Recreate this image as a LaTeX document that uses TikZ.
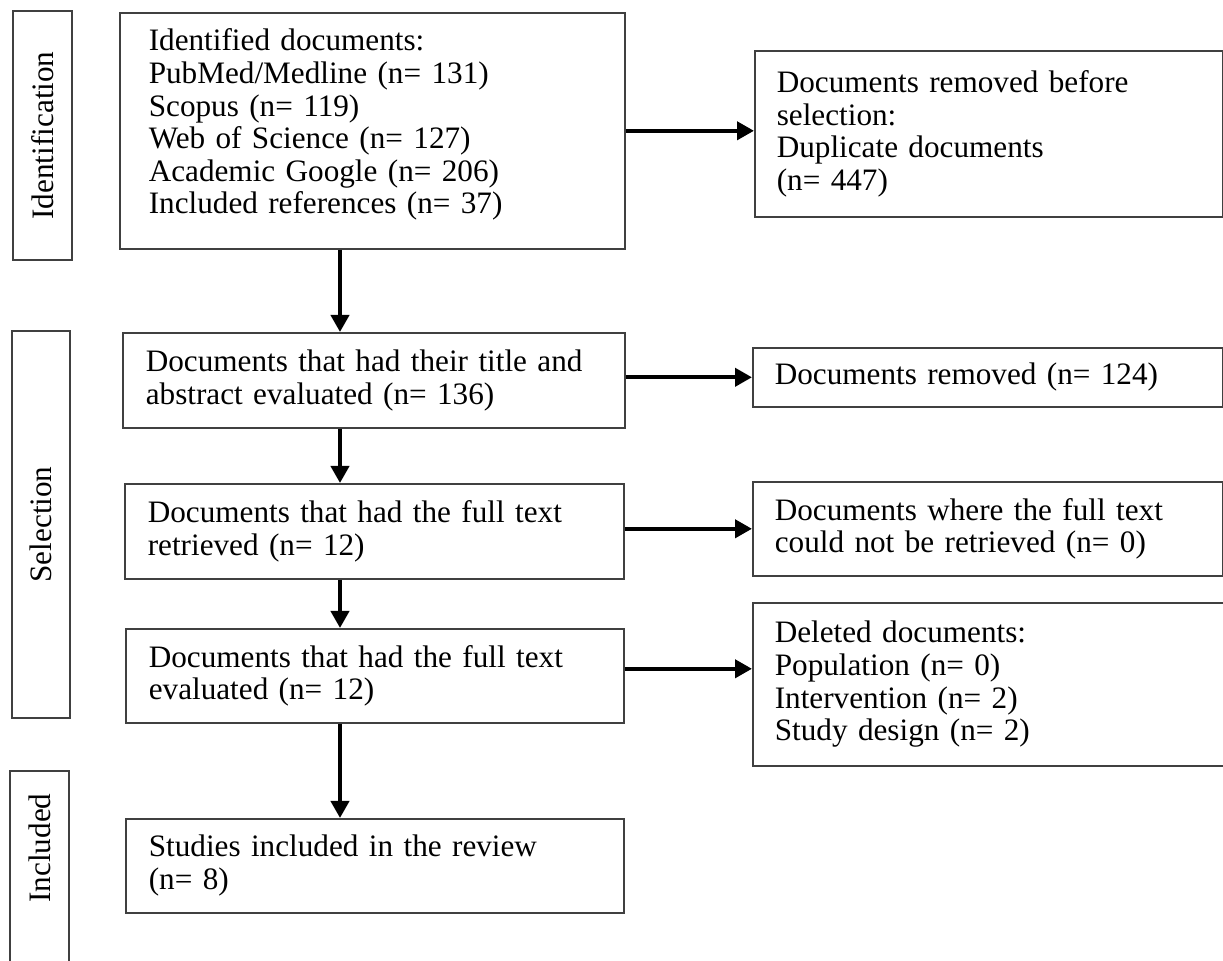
\documentclass[tikz,border=0pt]{standalone}
\usepackage{fontspec}
\setmainfont{Liberation Serif}
\usetikzlibrary{arrows.meta}

\tikzset{
  stagebox/.style={draw=black!75, line width=0.8pt, inner sep=0pt},
  stagetext/.style={rotate=90, inner sep=0pt, font=\fontsize{15.6}{16.3}\selectfont},
  flowbox/.style={draw=black!75, line width=0.8pt, anchor=north west, align=left,
    inner xsep=11.5pt, inner ysep=0pt, font=\fontsize{15.6}{16.3}\selectfont},
  flowarrow/.style={-{Triangle[length=8.5pt,width=9pt]}, line width=2pt}
}

\begin{document}
\begin{tikzpicture}[x=0.5pt,y=-0.5pt]
\useasboundingbox (0,0) rectangle (1223,961);

% stages on the left
\node[stagebox, stagetext, minimum width=124.5pt, minimum height=29.5pt] (ident) at (42.5,135.5) {Identification};
\node[stagebox, stagetext, minimum width=193.5pt, minimum height=29pt] (select) at (41,524.5) {Selection};
\node[stagebox, minimum width=29.5pt, minimum height=109.5pt] (incl) at (39.5,880.5) {};
\node[stagetext] (incltext) at (39.5,848) {Included};

% main column
\node[flowbox, inner xsep=14.5pt, text width=223.5pt, minimum height=118pt] (found) at (119,12)
  {Identified documents:\\PubMed/Medline (n= 131)\\Scopus (n= 119)\\Web of Science (n= 127)\\Academic Google (n= 206)\\Included references (n= 37)\\[-7pt]\mbox{}};
\node[flowbox, text width=228pt, minimum height=47.5pt] (screened) at (122,332)
  {Documents that had their title and\\abstract evaluated (n= 136)};
\node[flowbox, text width=226.5pt, minimum height=47.5pt] (retrieved) at (124,483)
  {Documents that had the full text\\retrieved (n= 12)};
\node[flowbox, text width=226pt, minimum height=47pt] (assessed) at (125,628)
  {Documents that had the full text\\evaluated (n= 12)};
\node[flowbox, text width=226pt, minimum height=47pt] (included) at (125,818)
  {Studies included in the review\\(n= 8)};

% removed on the right
\node[flowbox, inner xsep=11pt, text width=212pt, minimum height=83pt] (dupl) at (754,50)
  {Documents removed before\\selection:\\Duplicate documents\\(n= 447)};
\node[flowbox, inner xsep=11pt, text width=213pt, minimum height=29.5pt] (removed) at (752,347)
  {Documents removed (n= 124)};
\node[flowbox, inner xsep=11pt, text width=213pt, minimum height=47pt] (notret) at (752,481)
  {Documents where the full text\\could not be retrieved (n= 0)};
\node[flowbox, inner xsep=11pt, text width=228pt, minimum height=81.5pt] (deleted) at (752,602)
  {Deleted documents:\\Population (n= 0)\\Intervention (n= 2)\\Study design (n= 2)};

% arrows
\coordinate (spine) at (340,0);
\draw[flowarrow] (found.south -| spine) -- (screened.north -| spine);
\draw[flowarrow] (screened.south -| spine) -- (retrieved.north -| spine);
\draw[flowarrow] (retrieved.south -| spine) -- (assessed.north -| spine);
\draw[flowarrow] (assessed.south -| spine) -- (included.north -| spine);

\draw[flowarrow] (found.east) -- (found.east -| dupl.west);
\draw[flowarrow] (removed.west -| screened.east) -- (removed.west);
\draw[flowarrow] (notret.west -| retrieved.east) -- (notret.west);
\draw[flowarrow] ([yshift=3.5pt]assessed.east) -- ([yshift=3.5pt]assessed.east -| deleted.west);
\end{tikzpicture}
\end{document}
